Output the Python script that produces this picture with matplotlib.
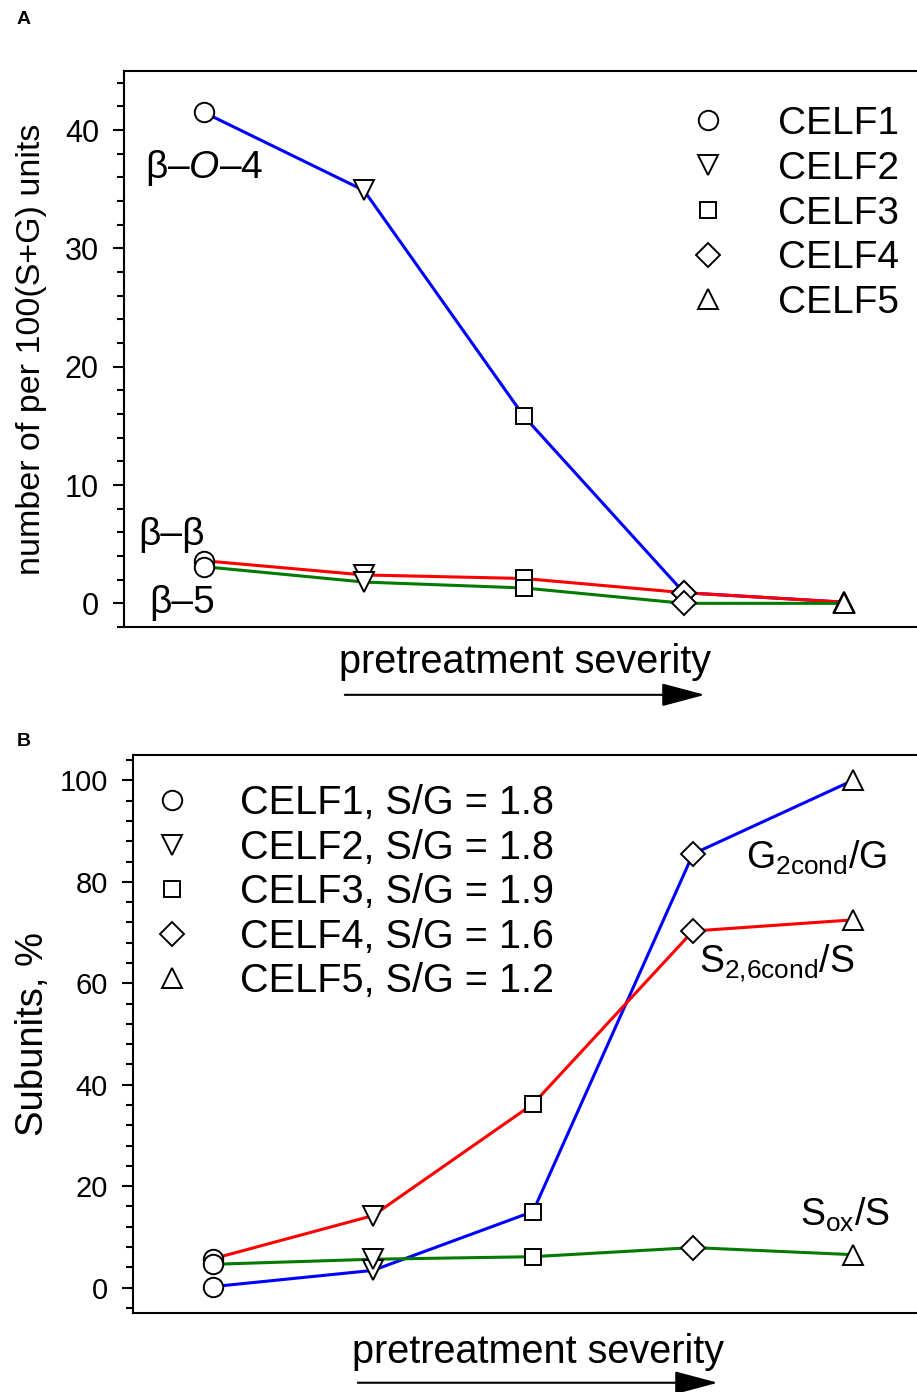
import matplotlib
matplotlib.use("Agg")
import matplotlib.pyplot as plt
from matplotlib.lines import Line2D
from matplotlib.ticker import MultipleLocator

plt.rcParams["font.family"] = ["Liberation Sans", "DejaVu Sans"]
plt.rcParams["mathtext.fontset"] = "custom"
plt.rcParams["mathtext.rm"] = "Liberation Sans"
plt.rcParams["mathtext.it"] = "Liberation Sans:italic"

samples = ["CELF1", "CELF2", "CELF3", "CELF4", "CELF5"]
sg_ratio = ["1.8", "1.8", "1.9", "1.6", "1.2"]
markers = ["o", "v", "s", "D", "^"]
msizes = [14, 14, 12, 12, 14]
x = [1, 2, 3, 4, 5]

# panel A: linkages per 100 (S+G)
b_o_4 = [41.5, 34.9, 15.8, 0.9, 0.1]
b_b = [3.6, 2.4, 2.1, 0.9, 0.1]
b_5 = [3.1, 1.8, 1.3, 0.0, 0.0]

# panel B: condensed / oxidised subunits, %
g_cond = [0.2, 3.4, 15.0, 85.5, 100.0]
s_cond = [5.7, 14.2, 36.2, 70.3, 72.5]
s_ox = [4.6, 5.6, 6.1, 7.9, 6.5]

W, H = 917, 1392
fig = plt.figure(figsize=(W / 100, H / 100), dpi=100)

axA = fig.add_axes([124 / W, 1 - 627 / H, 800 / W, 556 / H])
axB = fig.add_axes([133 / W, 1 - 1313 / H, 800 / W, 558 / H])


def draw_series(ax, ys, color):
    ax.plot(x, ys, color=color, lw=2.2, zorder=2)
    for xi, yi, m, ms in zip(x, ys, markers, msizes):
        ax.plot(xi, yi, marker=m, ms=ms, mfc="white", mec="black", mew=1.4,
                linestyle="none", zorder=3)


def style_axes(ax, ylim, major, minor, tick_fs):
    ax.set_xlim(0.5, 5.5)
    ax.set_ylim(*ylim)
    ax.yaxis.set_major_locator(MultipleLocator(major))
    ax.yaxis.set_minor_locator(MultipleLocator(minor))
    ax.set_xticks([])
    ax.tick_params(axis="y", which="major", direction="out", length=8, width=1.5,
                   labelsize=tick_fs, pad=10)
    ax.tick_params(axis="y", which="minor", direction="out", length=5, width=1.5)
    for sp in ax.spines.values():
        sp.set_linewidth(1.5)


def severity_arrow(ax, ty, ay, x0, x1):
    ax.text((x0 + x1) / 2, ty, "pretreatment severity", transform=ax.transAxes,
            ha="center", va="center", fontsize=28.5)
    ax.annotate("", xy=(x1, ay), xytext=(x0, ay), xycoords="axes fraction",
                arrowprops=dict(arrowstyle="-|>,head_length=0.9,head_width=0.24",
                                mutation_scale=30, lw=1.5, color="black",
                                shrinkA=0, shrinkB=0))


def legend_handles(labels):
    return [Line2D([], [], marker=m, ms=ms, mfc="white", mec="black", mew=1.4,
                   linestyle="none", label=lab)
            for m, ms, lab in zip(markers, msizes, labels)]


# ---- panel A
draw_series(axA, b_o_4, "#0000ff")
draw_series(axA, b_b, "#ff0000")
draw_series(axA, b_5, "#007a00")
style_axes(axA, (-2, 45), 10, 2, 22)
axA.set_ylabel("number of per 100(S+G) units", fontsize=24.5)
axA.yaxis.set_label_coords(-0.096, 0.5)
axA.text(0.63, 36.8, r"β–$\mathit{O}$–4", fontsize=28, ha="left", va="center")
axA.text(0.59, 5.8, "β–β", fontsize=28, ha="left", va="center")
axA.text(0.66, 0.0, "β–5", fontsize=28, ha="left", va="center")
axA.legend(handles=legend_handles(samples), loc="upper left",
           bbox_to_anchor=(0.686, 0.965), frameon=False, fontsize=28,
           labelspacing=0.225, handlelength=1.0, handletextpad=1.30,
           borderaxespad=0)
severity_arrow(axA, -0.063, -0.122, 0.276, 0.726)

# ---- panel B
draw_series(axB, g_cond, "#0000ff")
draw_series(axB, s_cond, "#ff0000")
draw_series(axB, s_ox, "#007a00")
style_axes(axB, (-5, 105), 20, 4, 21)
axB.set_ylabel("Subunits, %", fontsize=27.5)
axB.yaxis.set_label_coords(-0.103, 0.5)
axB.text(4.33, 84.7, r"G$_{\mathrm{2cond}}$/G", fontsize=27, ha="left", va="center")
axB.text(4.04, 64.0, r"S$_{\mathrm{2{,}6cond}}$/S", fontsize=27, ha="left", va="center")
axB.text(4.67, 14.3, r"S$_{\mathrm{ox}}$/S", fontsize=27, ha="left", va="center")
labelsB = [f"{s}, S/G = {r}" for s, r in zip(samples, sg_ratio)]
axB.legend(handles=legend_handles(labelsB), loc="upper left",
           bbox_to_anchor=(0.004, 0.976), frameon=False, fontsize=28.5,
           labelspacing=0.163, handlelength=1.0, handletextpad=1.22,
           borderaxespad=0)
severity_arrow(axB, -0.070, -0.125, 0.281, 0.731)

fig.text(17 / W, 1 - 20 / H, "A", fontsize=14, fontweight="bold", va="center")
fig.text(17 / W, 1 - 742 / H, "B", fontsize=14, fontweight="bold", va="center")

fig.savefig("out.png", dpi=100)
